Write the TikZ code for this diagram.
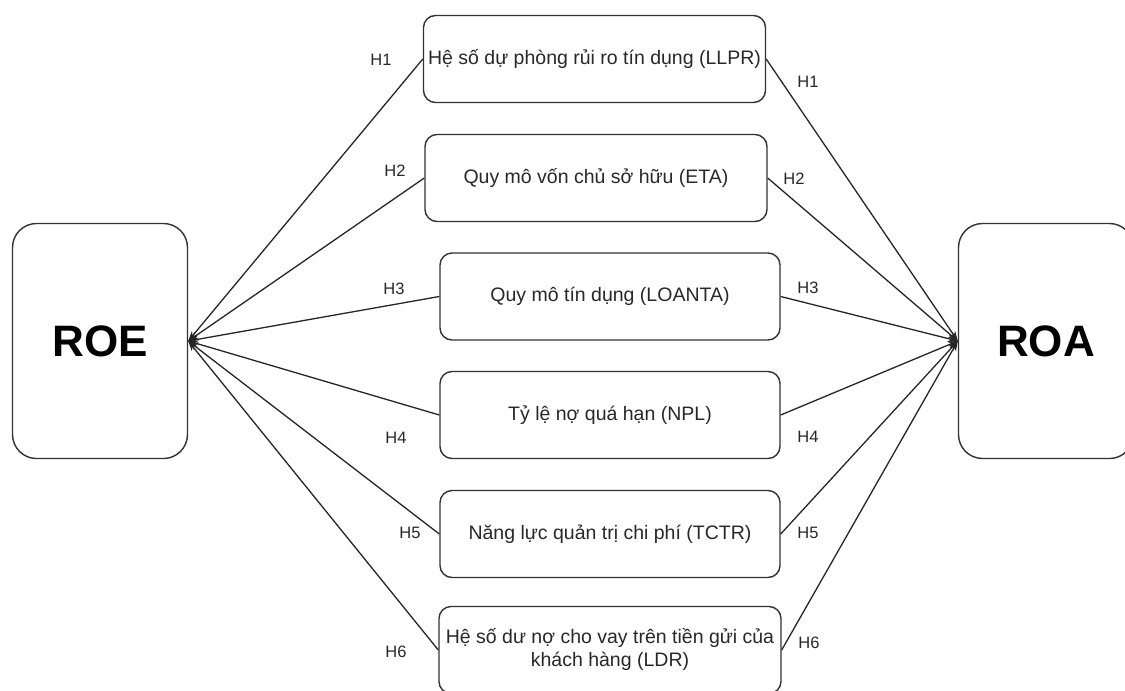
\documentclass[tikz,border=0pt]{standalone}
\usepackage{fontspec}
\setmainfont{Liberation Sans}
\usetikzlibrary{arrows.meta}
\definecolor{edge}{RGB}{51,51,51}
\definecolor{txt}{RGB}{40,40,40}
\begin{document}
\begin{tikzpicture}[x=1pt,y=-1pt,
  var/.style={draw=edge, line width=1.4pt, rounded corners=12pt, inner sep=0pt,
    minimum width=342pt, minimum height=87pt, align=center, text=txt,
    font=\fontsize{19.5}{23}\selectfont},
  big/.style={draw=edge, line width=1.4pt, rounded corners=24pt, inner sep=0pt,
    minimum width=175pt, minimum height=235pt, text=black,
    font=\fontsize{44}{50}\selectfont\bfseries},
  conn/.style={draw=black!85, line width=1.3pt, -{Stealth[length=10pt,width=7pt]}},
  hlab/.style={text=txt, inner sep=0pt, font=\fontsize{16.5}{19}\selectfont}]
\useasboundingbox (0,0) rectangle (1125,691);
\fill[white] (0,0) rectangle (1125,691);

\node[big] (roe) at (100,341) {ROE};
\node[big] (roa) at (1046,341) {ROA};

\node[var] (b1) at (594.5,59) {Hệ số dự phòng rủi ro tín dụng (LLPR)};
\node[var] (b2) at (596,178) {Quy mô vốn chủ sở hữu (ETA)};
\node[var, minimum width=340pt] (b3) at (610,296.5) {Quy mô tín dụng (LOANTA)};
\node[var, minimum width=340pt] (b4) at (610,415) {Tỷ lệ nợ quá hạn (NPL)};
\node[var, minimum width=340pt] (b5) at (610,534) {Năng lực quản trị chi phí (TCTR)};
\node[var, minimum width=342pt] (b6) at (610,650) {Hệ số dư nợ cho vay trên tiền gửi của\\khách hàng (LDR)};

\foreach \b in {b1,b2,b3,b4,b5,b6}{
  \draw[conn] (\b.west) -- (roe.east);
  \draw[conn] (\b.east) -- (roa.west);
}

\node[hlab] (l1) at (381,60) {H1};
\node[hlab] (l2) at (395,171) {H2};
\node[hlab] (l3) at (394,289) {H3};
\node[hlab] (l4) at (396,438) {H4};
\node[hlab] (l5) at (410,533) {H5};
\node[hlab] (l6) at (396,652) {H6};

\node[hlab] (r1) at (808,82) {H1};
\node[hlab] (r2) at (794,179) {H2};
\node[hlab] (r3) at (808,288) {H3};
\node[hlab] (r4) at (808,437) {H4};
\node[hlab] (r5) at (808,533) {H5};
\node[hlab] (r6) at (809,643) {H6};
\end{tikzpicture}
\end{document}
